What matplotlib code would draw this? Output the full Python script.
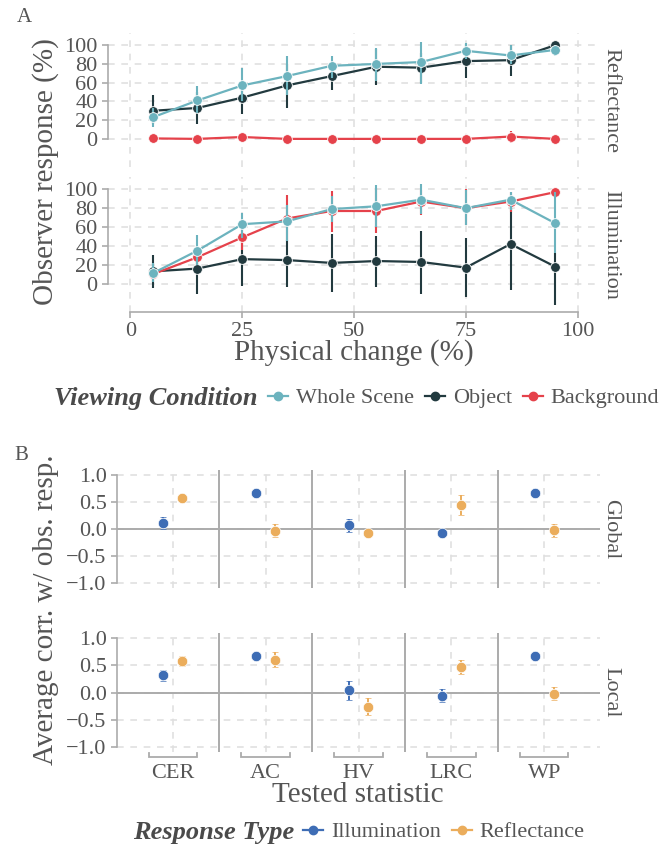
import numpy as np
import matplotlib
matplotlib.use("Agg")
import matplotlib.pyplot as plt
from matplotlib.lines import Line2D

plt.rcParams['font.family'] = ['Liberation Serif', 'DejaVu Serif']

# ---- panel A: observer response vs physical change ----
physical = [5, 15, 25, 35, 45, 55, 65, 75, 85, 95]
conditions = ['Whole Scene', 'Object', 'Background']
cond_colors = {'Whole Scene': '#6cb3be', 'Object': '#223a3f', 'Background': '#e5424b'}

refl_whole = [23, 41, 57, 67, 78, 80, 82, 94, 89, 95]
refl_whole_lo = [13, 28, 40, 47, 65, 62, 59, 85, 80, 88]
refl_whole_hi = [33, 56, 76, 88, 88, 97, 103, 102, 100, 100]
refl_object = [30, 33, 44, 57, 67, 77, 76, 83, 84, 100]
refl_object_lo = [16, 16, 27, 33, 52, 58, 60, 65, 67, 99]
refl_object_hi = [47, 50, 58, 80, 82, 96, 92, 101, 100, 101]
refl_bg = [0.5, 0, 2, 0, 0, 0, 0, 0, 2.5, 0]
refl_bg_lo = [-1, -1, 0, -1, -1, -1, -1, -1, -4, -1]
refl_bg_hi = [2, 1, 4, 1, 1, 1, 1, 1, 8, 1]

illum_whole = [11, 35, 63, 66, 79, 82, 89, 80, 89, 64]
illum_whole_lo = [2, 20, 48, 45, 65, 60, 74, 62, 78, 33]
illum_whole_hi = [22, 52, 75, 83, 93, 105, 106, 99, 97, 97]
illum_object = [13, 16, 26, 25, 22, 24, 23, 17, 42, 18]
illum_object_lo = [-5, -11, -2, -3, -9, -4, -11, -14, -7, -23]
illum_object_hi = [30, 40, 52, 46, 53, 51, 56, 48, 86, 32]
illum_bg = [10, 28, 49, 69, 77, 77, 87, 80, 87, 97]
illum_bg_lo = [6, 20, 36, 45, 55, 54, 73, 62, 76, 95]
illum_bg_hi = [14, 36, 62, 94, 98, 101, 99, 100, 97, 99]

facets_a = {
    'Reflectance': {
        'Whole Scene': (refl_whole, refl_whole_lo, refl_whole_hi),
        'Object': (refl_object, refl_object_lo, refl_object_hi),
        'Background': (refl_bg, refl_bg_lo, refl_bg_hi),
    },
    'Illumination': {
        'Whole Scene': (illum_whole, illum_whole_lo, illum_whole_hi),
        'Object': (illum_object, illum_object_lo, illum_object_hi),
        'Background': (illum_bg, illum_bg_lo, illum_bg_hi),
    },
}

# ---- panel B: correlation per tested statistic ----
stats = ['CER', 'AC', 'HV', 'LRC', 'WP']
resp_types = ['Illumination', 'Reflectance']
resp_colors = {'Illumination': '#3e6db5', 'Reflectance': '#ebad5c'}

global_illum = [0.11, 0.67, 0.07, -0.07, 0.67]
global_illum_err = [0.11, 0.02, 0.12, 0.02, 0.02]
global_refl = [0.58, -0.03, -0.07, 0.45, -0.02]
global_refl_err = [0.03, 0.12, 0.02, 0.19, 0.12]
local_illum = [0.32, 0.68, 0.04, -0.06, 0.68]
local_illum_err = [0.10, 0.02, 0.18, 0.12, 0.02]
local_refl = [0.58, 0.61, -0.26, 0.47, -0.02]
local_refl_err = [0.09, 0.13, 0.15, 0.13, 0.12]

facets_b = {
    'Global': {'Illumination': (global_illum, global_illum_err),
               'Reflectance': (global_refl, global_refl_err)},
    'Local': {'Illumination': (local_illum, local_illum_err),
              'Reflectance': (local_refl, local_refl_err)},
}
yticks_b = [-1.0, -0.5, 0.0, 0.5, 1.0]
yticklabels_b = ['\u22121.0', '\u22120.5', '0.0', '0.5', '1.0']

TXT = '#555555'
AXC = '#ababab'
GRID = '#e0e0e0'
W, H = 670, 850

fig = plt.figure(figsize=(W / 100, H / 100), dpi=100)


def px_axes(x0, y0, x1, y1):
    return fig.add_axes([x0 / W, 1 - y1 / H, (x1 - x0) / W, (y1 - y0) / H])


def style_axes(ax):
    for s in ['top', 'right']:
        ax.spines[s].set_visible(False)
    ax.tick_params(colors=AXC, labelcolor=TXT, labelsize=16, length=4, width=1.2)
    ax.set_facecolor('none')
    ax.set_axisbelow(True)


# panel A facets
axes_a = [px_axes(108, 33, 600, 167), px_axes(108, 177, 600, 312)]
for ax, (facet, series) in zip(axes_a, facets_a.items()):
    style_axes(ax)
    ax.set_xlim(-5, 105)
    ax.set_ylim(-30, 113)
    ax.set_yticks(range(0, 101, 20))
    ax.set_xticks([0, 25, 50, 75, 100])
    ax.grid(True, ls=(0, (4, 4)), color=GRID, lw=1.2)
    ax.spines['left'].set_bounds(0, 100)
    ax.spines['left'].set_color(AXC)
    ax.spines['left'].set_linewidth(1.2)
    order = {'Object': 2, 'Background': 3, 'Whole Scene': 4}
    for cond in conditions:
        val, lo, hi = series[cond]
        c = cond_colors[cond]
        z = order[cond]
        ax.vlines(physical, lo, hi, color=c, lw=1.5, zorder=z)
        ax.plot(physical, val, color=c, lw=1.6, marker='o', ms=7,
                mec='white', mew=0.6, zorder=z + 0.5)
    ax.text(1 + 11 / 492, 0.5, facet, transform=ax.transAxes, rotation=270,
            ha='center', va='center', fontsize=16, color=TXT)

axes_a[0].spines['bottom'].set_visible(False)
axes_a[0].tick_params(axis='x', length=0, labelbottom=False)
axes_a[1].spines['bottom'].set_bounds(0, 100)
axes_a[1].spines['bottom'].set_color(AXC)
axes_a[1].spines['bottom'].set_linewidth(1.2)

fig.text(354 / W, 1 - 353 / H, 'Physical change (%)', ha='center', va='center',
         fontsize=21, color=TXT)
fig.text(46 / W, 1 - 172 / H, 'Observer response (%)', ha='center', va='center',
         rotation=90, fontsize=21, color=TXT)
fig.text(24 / W, 1 - 17 / H, 'A', ha='center', va='center', fontsize=15, color=TXT)

handles_a = [Line2D([], [], color=cond_colors[c], marker='o', ms=6, lw=1.6) for c in conditions]
fig.text(258 / W, 1 - 398 / H, 'Viewing Condition', ha='right', va='center',
         fontsize=19, fontweight='bold', fontstyle='italic', color='#4a4a4a')
fig.legend(handles_a, conditions, loc='center left', bbox_to_anchor=(268 / W, 1 - 398 / H),
           ncol=3, frameon=False, fontsize=16, handlelength=0.9, handletextpad=0.35,
           columnspacing=0.5, borderaxespad=0, borderpad=0, labelcolor=TXT)

# panel B facets
xs = np.arange(1, len(stats) + 1)
dodge = {'Illumination': -0.1, 'Reflectance': 0.1}
axes_b = [px_axes(117, 470, 600, 588), px_axes(117, 633, 600, 752)]
for ax, (facet, series) in zip(axes_b, facets_b.items()):
    style_axes(ax)
    ax.set_xlim(0.4, 5.6)
    ax.set_ylim(-1.1, 1.1)
    ax.set_yticks(yticks_b)
    ax.set_yticklabels(yticklabels_b)
    ax.set_xticks(xs)
    ax.grid(True, ls=(0, (4, 4)), color=GRID, lw=1.2)
    ax.spines['bottom'].set_visible(False)
    ax.spines['left'].set_bounds(-1, 1)
    ax.spines['left'].set_color(AXC)
    ax.spines['left'].set_linewidth(1.2)
    ax.axhline(0, color=AXC, lw=1.4, zorder=2)
    for xb in xs[:-1] + 0.5:
        ax.axvline(xb, color=AXC, lw=1.4, zorder=2)
    for rt in resp_types:
        val, err = series[rt]
        ax.errorbar(xs + dodge[rt], val, yerr=err, fmt='o', color=resp_colors[rt],
                    ms=7.5, mec='white', mew=0.5, elinewidth=1.4, capsize=2.5,
                    capthick=1.2, zorder=3)
    ax.text(1 + 11 / 483, 0.5, facet, transform=ax.transAxes, rotation=270,
            ha='center', va='center', fontsize=16, color=TXT)

axes_b[0].tick_params(axis='x', length=0, labelbottom=False)
axes_b[1].set_xticklabels(stats)
axes_b[1].tick_params(axis='x', length=0, pad=9)

# bracket under each category label
tr = axes_b[1].get_xaxis_transform()
for x in xs:
    axes_b[1].plot([x - 0.26, x - 0.26, x + 0.26, x + 0.26], [-0.012, -0.045, -0.045, -0.012],
                   color=AXC, lw=1.3, transform=tr, clip_on=False, solid_joinstyle='miter')

fig.text(358 / W, 1 - 795 / H, 'Tested statistic', ha='center', va='center',
         fontsize=21, color=TXT)
fig.text(46 / W, 1 - 610 / H, 'Average corr. w/ obs. resp.', ha='center', va='center',
         rotation=90, fontsize=21, color=TXT)
fig.text(21 / W, 1 - 456 / H, 'B', ha='center', va='center', fontsize=15, color=TXT)

handles_b = [Line2D([], [], color=resp_colors[r], marker='o', ms=6, lw=1.6) for r in resp_types]
fig.text(294 / W, 1 - 832 / H, 'Response Type', ha='right', va='center',
         fontsize=19, fontweight='bold', fontstyle='italic', color='#4a4a4a')
fig.legend(handles_b, resp_types, loc='center left', bbox_to_anchor=(303 / W, 1 - 832 / H),
           ncol=2, frameon=False, fontsize=16, handlelength=0.9, handletextpad=0.35,
           columnspacing=0.5, borderaxespad=0, borderpad=0, labelcolor=TXT)

fig.savefig('out.png', dpi=100)
